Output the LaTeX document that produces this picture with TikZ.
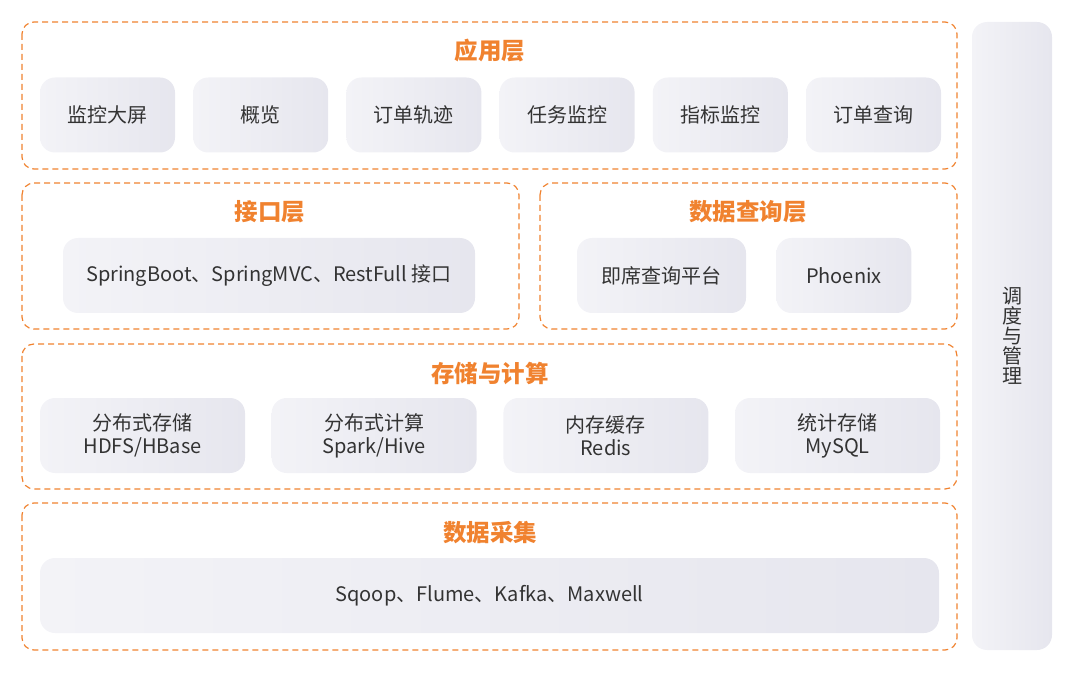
\documentclass[tikz,border=0pt]{standalone}
\usepackage{fontspec}
\setmainfont{Noto Sans CJK SC}
\usetikzlibrary{positioning}
\definecolor{layerorange}{HTML}{F0822F}
\definecolor{boxleft}{HTML}{F3F3F7}
\definecolor{boxright}{HTML}{E6E6EE}
\definecolor{textgray}{HTML}{333333}

\begin{document}
\begin{tikzpicture}[x=1pt, y=-1pt,
    layer/.style={draw=layerorange, dash pattern=on 6pt off 4pt, line width=1.2pt, rounded corners=12pt},
    title/.style={text=layerorange, font=\fontsize{23.5}{28}\selectfont\bfseries},
    item/.style={rounded corners=15pt, left color=boxleft, right color=boxright, minimum height=75pt,
        text=textgray, font=\fontsize{20}{23}\selectfont, align=center, inner sep=0pt}]
    \useasboundingbox (0,0) rectangle (1080,679);

    % layers
    \draw[layer] (22,22) rectangle (957,169);
    \draw[layer] (22,183) rectangle (519,329);
    \draw[layer] (540,183) rectangle (957,329);
    \draw[layer] (22,344) rectangle (957,489);
    \draw[layer] (22,503) rectangle (957,650);

    \node[title] (appT) at (490,51) {应用层};
    \node[title] (apiT) at (270,212) {接口层};
    \node[title] (qryT) at (748,212) {数据查询层};
    \node[title] (stoT) at (490,373) {存储与计算};
    \node[title] (colT) at (490,533) {数据采集};

    % application row
    \node[item, minimum width=135pt] (app1) at (107.5,115) {监控大屏};
    \node[item, minimum width=135pt] (app2) [right=17.8pt of app1] {概览};
    \node[item, minimum width=135pt] (app3) [right=17.8pt of app2] {订单轨迹};
    \node[item, minimum width=135pt] (app4) [right=17.8pt of app3] {任务监控};
    \node[item, minimum width=135pt] (app5) [right=17.8pt of app4] {指标监控};
    \node[item, minimum width=135pt] (app6) [right=17.8pt of app5] {订单查询};

    % interface and query
    \node[item, minimum width=412pt] (api) at (269,275.5) {SpringBoot、SpringMVC、RestFull 接口};
    \node[item, minimum width=169pt] (qry1) at (661.5,275.5) {即席查询平台};
    \node[item, minimum width=135pt] (qry2) [right=30pt of qry1] {Phoenix};

    % storage row
    \node[item, minimum width=205pt] (sto1) at (142.5,435.5) {分布式存储\\HDFS/HBase};
    \node[item, minimum width=205pt] (sto2) [right=26.3pt of sto1] {分布式计算\\Spark/Hive};
    \node[item, minimum width=205pt] (sto3) [right=26.3pt of sto2] {内存缓存\\Redis};
    \node[item, minimum width=205pt] (sto4) [right=26.3pt of sto3] {统计存储\\MySQL};

    % collection
    \node[item, minimum width=899pt] (col) at (489.5,595.5) {Sqoop、Flume、Kafka、Maxwell};

    % scheduling
    \node[item, minimum width=80pt, minimum height=628pt, font=\fontsize{20}{20}\selectfont] (sched) at (1012,336)
        {调\\度\\与\\管\\理};
\end{tikzpicture}
\end{document}
